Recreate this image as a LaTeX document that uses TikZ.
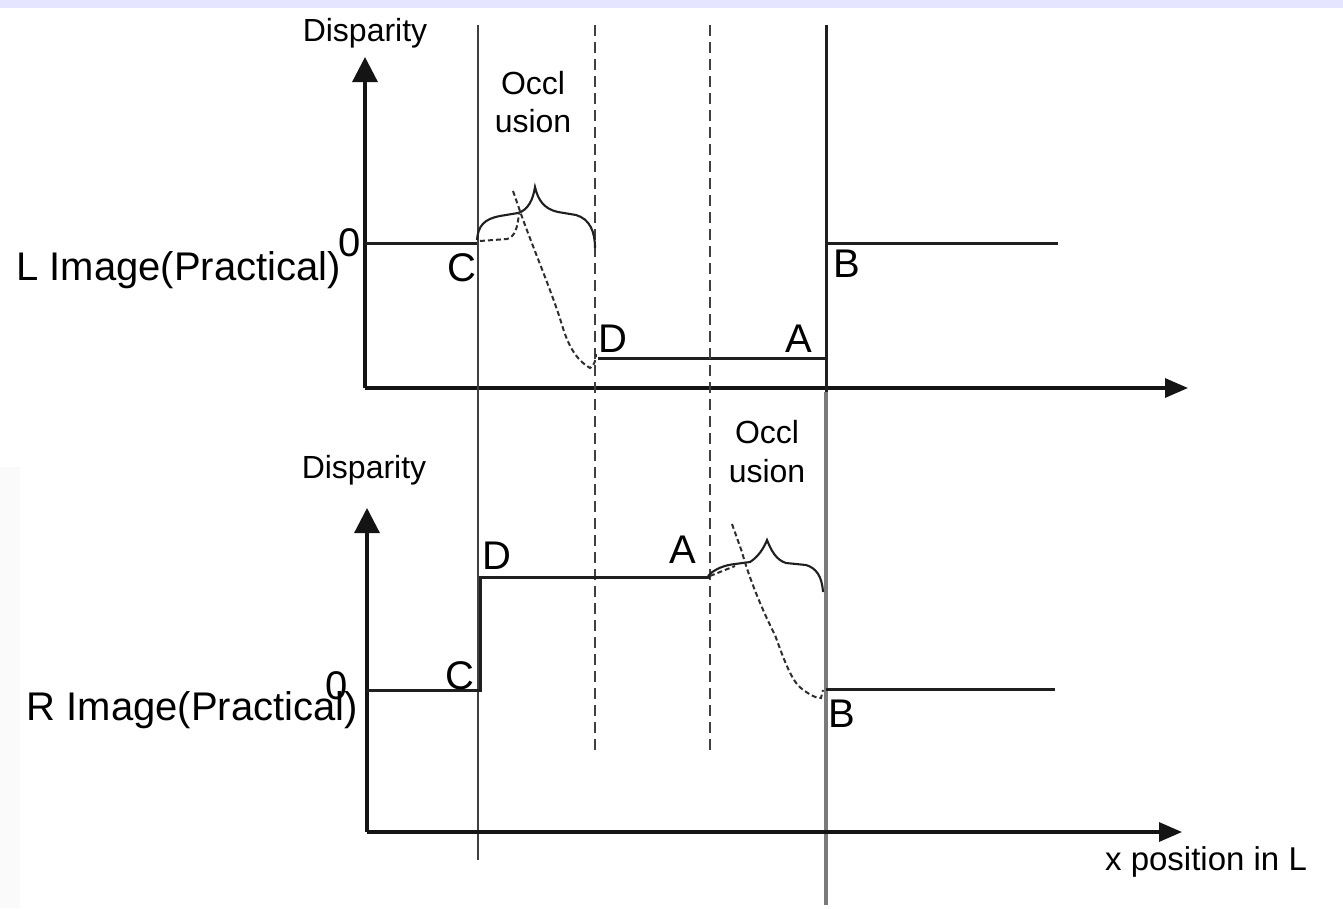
\documentclass[tikz,border=0pt]{standalone}
\usepackage{fontspec}
\setmainfont{Liberation Sans}
\usetikzlibrary{arrows.meta}
\begin{document}
\begin{tikzpicture}[x=1pt,y=-1pt,
  axis/.style={line width=3.2pt,draw=black!92},
  plot/.style={line width=3pt,draw=black!88},
  guide/.style={line width=2.7pt,draw=black!75},
  dguide/.style={line width=2.7pt,draw=black!75,dash pattern=on 11pt off 6pt},
  dcurve/.style={line width=2pt,draw=black!82,dash pattern=on 5pt off 3pt},
  brace/.style={line width=2.1pt,draw=black!88},
  big/.style={font=\fontsize{40}{42}\selectfont,inner sep=0pt},
  mid/.style={font=\fontsize{32}{34}\selectfont,inner sep=0pt},
  small/.style={font=\fontsize{32}{34}\selectfont,inner sep=0pt},
  upar/.style={-{Triangle[length=25pt,width=25pt]}},
  rtar/.style={-{Triangle[length=23pt,width=19pt]}}]
\useasboundingbox (0,0) rectangle (1343,908);
\fill[white] (0,0) rectangle (1343,908);
\fill[blue!10!white] (0,0) rectangle (1343,8);
\fill[black!2] (0,467) rectangle (20,908);

% ---------- top panel ----------
\coordinate (tO) at (365,388);
\coordinate (tY) at (365,57);
\coordinate (tX) at (1188,388);
\coordinate (tZ) at (365,243);
\coordinate (tC) at (478,243);
\coordinate (tD) at (598,358);
\coordinate (tA) at (826,358);
\coordinate (tB) at (826,243);
\coordinate (tE) at (1058,243);
\draw[axis,upar] (tO) -- (tY);
\draw[axis,rtar] (tO) -- (tX);
\draw[plot] (tZ) -- (tC);
\draw[plot] (tD) -- (tA);
\draw[plot] (tB) -- (tE);

% vertical guides
\coordinate (g1a) at (478,25);  \coordinate (g1b) at (478,860);
\coordinate (g2a) at (826,25);  \coordinate (g2b) at (826,392);
\coordinate (g2c) at (826,905);
\coordinate (g3a) at (595,25);  \coordinate (g3b) at (595,750);
\coordinate (g4a) at (710,25);  \coordinate (g4b) at (710,750);
\draw[guide] (g1a) -- (g1b);
\draw[plot] (g2a) -- (g2b);
\draw[line width=4.2pt,draw=black!52] (g2b) -- (g2c);
\draw[dguide] (g3a) -- (g3b);
\draw[dguide] (g4a) -- (g4b);

% top brace
\draw[brace] (477,240) .. controls (478,226) and (484,219) .. (500,216)
  -- (518,213) .. controls (528,210) and (533,200) .. (535,187)
  .. controls (538,200) and (544,209) .. (558,212)
  -- (576,215) .. controls (590,219) and (595,232) .. (595,248);
% top dashed curve
\draw[dcurve] (480,241) -- (507,239) .. controls (515,237) and (518,227) .. (519,212);
\draw[dcurve] (513,191) -- (521,214) .. controls (533,248) and (552,292) .. (562,325)
  .. controls (570,352) and (580,362) .. (590,368) .. controls (594,366) and (596,360) .. (596,354);

% top labels
\node[small] (tdisp) at (365,33) {Disparity};
\node[big] (tzero) at (350,243) {0};
\node[big,anchor=east] (tname) at (341,270) {L Image(Practical)};
\node[big] (lC) at (462,268) {C};
\node[big] (lB) at (847,264) {B};
\node[big] (lD) at (613,339) {D};
\node[big] (lA) at (799,339) {A};
\node[mid] (tocc1) at (533,83) {Occl};
\node[mid] (tocc2) at (533,121) {usion};

% ---------- bottom panel ----------
\coordinate (bO) at (367,832);
\coordinate (bY) at (367,508);
\coordinate (bX) at (1182,832);
\coordinate (bZ) at (367,690);
\coordinate (bC) at (480,690);
\coordinate (bD) at (480,577);
\coordinate (bA) at (710,577);
\coordinate (bB) at (826,689);
\coordinate (bE) at (1055,689);
\draw[axis,upar] (bO) -- (bY);
\draw[axis,rtar] (bO) -- (bX);
\draw[plot] (bZ) -- (bC) -- (bD) -- (bA);
\draw[plot] (bB) -- (bE);

% bottom brace
\draw[brace] (708,576) .. controls (714,569) and (725,565) .. (735,564)
  -- (750,562) .. controls (758,557) and (764,548) .. (767,540)
  .. controls (771,550) and (776,560) .. (786,563)
  -- (806,565) .. controls (816,568) and (822,576) .. (823,592);
% bottom dashed curve
\draw[dcurve] (710,576) -- (735,566);
\draw[dcurve] (732,524) -- (742,552) .. controls (748,575) and (762,610) .. (775,635)
  .. controls (784,660) and (792,682) .. (802,689)
  .. controls (810,695) and (818,699) .. (821,698) -- (823,690);

% bottom labels
\node[small] (bdisp) at (364,470) {Disparity};
\node[big] (bzero) at (337,686) {0};
\node[big,anchor=east] (bname) at (358,710) {R Image(Practical)};
\node[big] (mC) at (460,676) {C};
\node[big] (mD) at (497,556) {D};
\node[big] (mA) at (683,550) {A};
\node[big] (mB) at (842,714) {B};
\node[mid] (bocc1) at (767,432) {Occl};
\node[mid] (bocc2) at (767,471) {usion};
\node[font=\fontsize{33}{35}\selectfont,inner sep=0pt] (xlab) at (1206,862) {x position in L};
\end{tikzpicture}
\end{document}
